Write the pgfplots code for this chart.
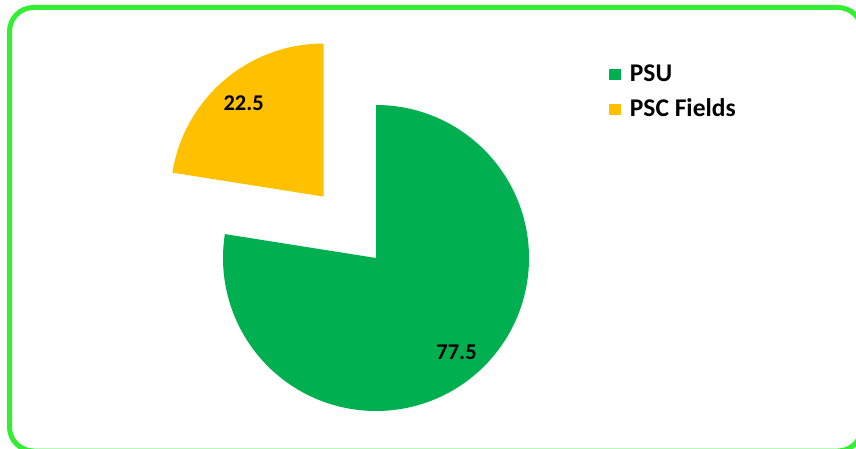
\documentclass[border=0pt]{standalone}
\usepackage{pgfplots}
\usepackage{pgfplotstable}
\pgfplotsset{compat=1.18}
\usepackage{fontspec}
\setmainfont{Carlito}
\definecolor{psu}{RGB}{0,176,80}
\definecolor{psc}{RGB}{255,192,0}
\definecolor{frameg}{RGB}{51,238,51}

\pgfplotstableread{
label value explode
PSU 77.5 0
PSCFields 22.5 80.8
}\piedata

\begin{document}
\begin{tikzpicture}[x=1pt,y=1pt]
\useasboundingbox (0,0) rectangle (856,448);
\begin{scope}
\clip (0,0) rectangle (856,448);
\draw[frameg, line width=5pt, rounded corners=24pt] (9.5,-3) rectangle (862,440.5);
\end{scope}
\pgfplotstablegetelem{0}{value}\of\piedata \let\va\pgfplotsretval
\pgfplotstablegetelem{1}{value}\of\piedata \let\vb\pgfplotsretval
\pgfplotstablegetelem{1}{explode}\of\piedata \let\exb\pgfplotsretval
\pgfmathsetmacro\fa{\va/(\va+\vb)}
\pgfmathsetmacro\fb{\vb/(\va+\vb)}
\pgfmathsetmacro\angA{360*\fa}
\pgfmathsetmacro\endA{90-\angA}
\pgfmathsetmacro\endB{\endA-360*\fb}
\pgfmathsetmacro\midA{90-\angA/2}
\pgfmathsetmacro\midB{(\endA+\endB)/2}
\pgfmathsetmacro\cxA{376}
\pgfmathsetmacro\cyA{190}
\pgfmathsetmacro\cxB{\cxA+\exb*cos(\midB)}
\pgfmathsetmacro\cyB{\cyA+\exb*sin(\midB)}
\pgfmathsetmacro\lxA{\cxA+124*cos(\midA)}
\pgfmathsetmacro\lyA{\cyA+124*sin(\midA)}
\pgfmathsetmacro\lxB{\cxB+123*cos(\midB)}
\pgfmathsetmacro\lyB{\cyB+123*sin(\midB)}
\begin{axis}[at={(0,0)}, anchor=south west, width=856pt, height=448pt,
  scale only axis, xmin=0, xmax=856, ymin=0, ymax=448, hide axis, clip=false,
  legend cell align=left,
  legend image code/.code={\fill[#1, draw=none] (0pt,-5.5pt) rectangle (11.5pt,5.5pt); \path (20.5pt,0pt);},
  legend style={at={(axis cs:609,386.5)}, anchor=north west, draw=none, fill=none,
    inner sep=0pt, row sep=9pt, font=\fontsize{25.5}{30}\selectfont\bfseries,
    nodes={inner sep=0pt, text height=20pt, text depth=6pt}},
]
\addlegendimage{fill=psu}
\addlegendentry{PSU}
\addlegendimage{fill=psc}
\addlegendentry{PSC Fields}
\fill[psu] (axis cs:\cxA,\cyA) -- ++(90:153pt) arc[start angle=90, end angle=\endA, radius=153pt] -- cycle;
\fill[psc] (axis cs:\cxB,\cyB) -- ++(\endA:153pt) arc[start angle=\endA, end angle=\endB, radius=153pt] -- cycle;
\node[font=\fontsize{22.5}{27}\selectfont\bfseries] at (axis cs:\lxA,\lyA) {\va};
\node[font=\fontsize{22.5}{27}\selectfont\bfseries] at (axis cs:\lxB,\lyB) {\vb};
\end{axis}
\end{tikzpicture}
\end{document}
